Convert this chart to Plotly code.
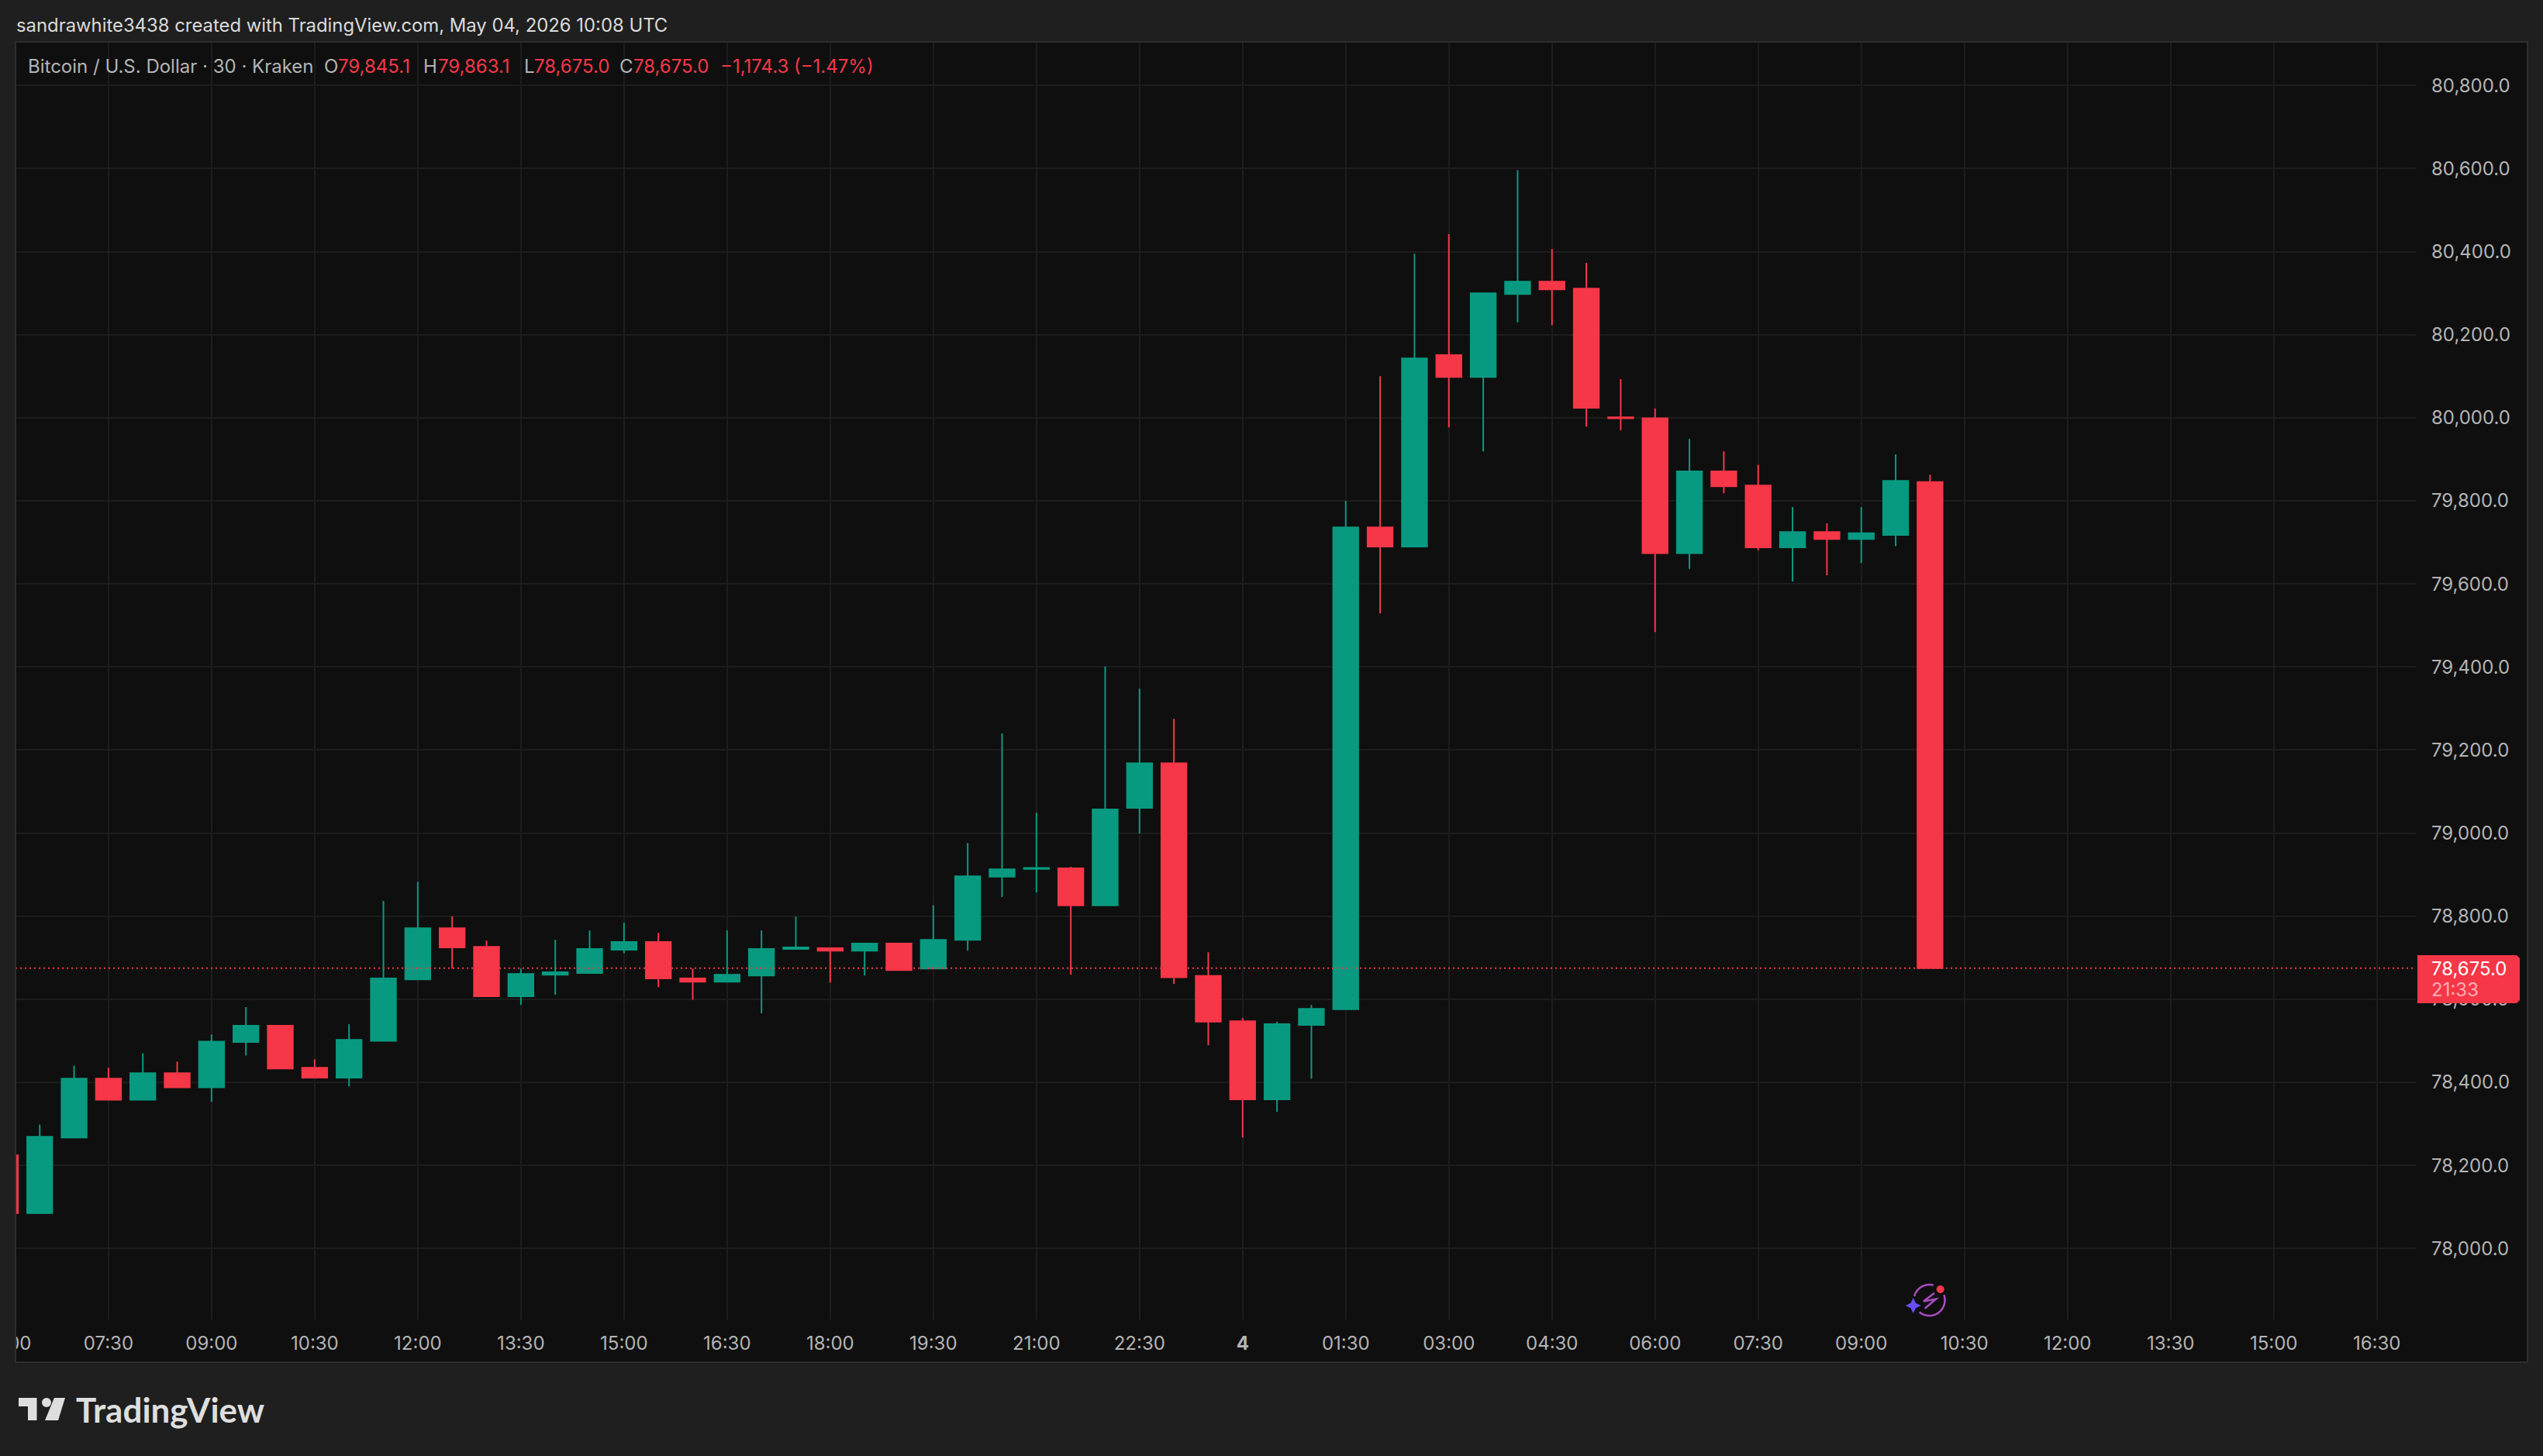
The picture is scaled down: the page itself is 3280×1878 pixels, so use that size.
import math
from datetime import datetime, timedelta
import plotly.graph_objects as go

W, H = 3280, 1878

# 30 minute bars, Bitcoin / U.S. Dollar, Kraken
start_time = datetime(2026, 5, 3, 6, 0)

opens = [78224, 78085, 78267, 78409, 78358, 78422, 78388, 78497, 78536, 78435,
         78411, 78500, 78648, 78771, 78726, 78607, 78659, 78663, 78719, 78738,
         78650, 78642, 78657, 78721, 78723, 78717, 78734, 78674, 78743, 78895,
         78914, 78915, 78826, 79061, 79168, 78656, 78547, 78359, 78538, 78576,
         79736, 79690, 80151, 80098, 80298, 80328, 80311, 80001, 79999, 79674,
         79871, 79837, 79688, 79725, 79708, 79718, 79845.1]
highs = [78224, 78298, 78440, 78435, 78470, 78450, 78515, 78581, 78536, 78455,
         78540, 78837, 78883, 78800, 78741, 78674, 78743, 78766, 78784, 78760,
         78674, 78766, 78766, 78799, 78723, 78734, 78734, 78826, 78976, 79240,
         79049, 78919, 79401, 79348, 79275, 78713, 78555, 78546, 78586, 79800,
         80100, 80395, 80442, 80300, 80596, 80406, 80373, 80093, 80022, 79949,
         79919, 79887, 79785, 79746, 79785, 79912, 79863.1]
lows = [78085, 78085, 78267, 78358, 78358, 78388, 78353, 78465, 78433, 78411,
        78390, 78500, 78648, 78674, 78607, 78586, 78611, 78663, 78711, 78629,
        78599, 78642, 78566, 78721, 78640, 78657, 78670, 78674, 78717, 78846,
        78857, 78659, 78826, 78999, 78637, 78489, 78267, 78329, 78409, 78576,
        79529, 79690, 79977, 79919, 80230, 80223, 79979, 79970, 79484, 79636,
        79818, 79681, 79606, 79621, 79650, 79691, 78675.0]
closes = [78085, 78269, 78409, 78358, 78422, 78388, 78498, 78536, 78433, 78411,
          78502, 78650, 78771, 78725, 78607, 78661, 78665, 78721, 78738, 78650,
          78642, 78659, 78721, 78725, 78717, 78734, 78670, 78743, 78896, 78913,
          78916, 78826, 79057, 79168, 78653, 78546, 78359, 78540, 78577, 79736,
          79690, 80143, 80098, 80300, 80328, 80309, 80024, 79999, 79674, 79871,
          79835, 79688, 79725, 79708, 79722, 79848, 78675.0]

price_ticks = [78000, 78200, 78400, 78600, 78800, 79000, 79200, 79400,
               79600, 79800, 80000, 80200, 80400, 80600, 80800]
time_labels = ["06:00", "07:30", "09:00", "10:30", "12:00", "13:30", "15:00", "16:30",
               "18:00", "19:30", "21:00", "22:30", "<b>4</b>", "01:30", "03:00", "04:30",
               "06:00", "07:30", "09:00", "10:30", "12:00", "13:30", "15:00", "16:30"]

BG_OUT = "#1F1F1F"
BG_PANE = "#0F0F0F"
GRID = "#1D1D1D"
BORDER = "#2E2E2E"
UP = "#089A80"
DOWN = "#F53748"
TEXT = "#B4B4B4"
FONT = "Inter"

times = [start_time + timedelta(minutes=30 * i) for i in range(len(opens))]
time_ticks = [start_time + timedelta(minutes=90 * i) for i in range(len(time_labels))]


# pixel helpers for the page furniture
def fx(x):
    return x / W


def fy(y):
    return 1 - y / H


def path(points, close=True):
    s = "M" + " L".join(f"{fx(x):.6f},{fy(y):.6f}" for x, y in points)
    return s + (" Z" if close else "")


def bar_time(i):
    return start_time + timedelta(minutes=30 * i)


fig = go.Figure()

fig.add_trace(go.Candlestick(
    x=times, open=opens, high=highs, low=lows, close=closes,
    increasing=dict(line=dict(color=UP, width=2), fillcolor=UP),
    decreasing=dict(line=dict(color=DOWN, width=2), fillcolor=DOWN),
    whiskerwidth=0,
    showlegend=False,
))

shapes = [
    # pane
    dict(type="rect", xref="paper", yref="paper", layer="below",
         x0=fx(20), x1=fx(3260), y0=fy(1757), y1=fy(54),
         fillcolor=BG_PANE, line=dict(width=0)),
    # last price line
    dict(type="line", xref="paper", yref="y", x0=fx(20), x1=fx(3114),
         y0=closes[-1], y1=closes[-1],
         line=dict(color=DOWN, width=2, dash="2px,4px")),
    # strip left of the pane hides the clipped bar and label
    dict(type="rect", xref="paper", yref="paper", x0=0, x1=fx(19), y0=0, y1=1,
         fillcolor=BG_OUT, line=dict(width=0)),
    dict(type="rect", xref="paper", yref="paper",
         x0=fx(20), x1=fx(3260), y0=fy(1757), y1=fy(54),
         fillcolor="rgba(0,0,0,0)", line=dict(color=BORDER, width=2)),
    # price tag
    dict(type="path", xref="paper", yref="paper",
         path=path([(3118, 1232), (3246, 1232), (3250, 1236), (3250, 1290), (3246, 1294), (3118, 1294)]),
         fillcolor=DOWN, line=dict(width=0)),
    # tradingview logo
    dict(type="path", xref="paper", yref="paper",
         path=path([(24, 1803), (47.5, 1803), (47.5, 1832), (36, 1832), (36, 1814), (24, 1814)]),
         fillcolor="#DEDEDE", line=dict(width=0)),
    dict(type="circle", xref="paper", yref="paper", x0=fx(54), x1=fx(66), y0=fy(1815), y1=fy(1803),
         fillcolor="#DEDEDE", line=dict(width=0)),
    dict(type="path", xref="paper", yref="paper",
         path=path([(70, 1803), (84, 1803), (75, 1832), (58, 1832)]),
         fillcolor="#DEDEDE", line=dict(width=0)),
]

# badge near the last bar
cx, cy, r = 2488.5, 1677, 20
ring1 = [(cx + r * math.cos(math.radians(a)), cy + r * math.sin(math.radians(a))) for a in range(-20, 135, 5)]
ring2 = [(cx + r * math.cos(math.radians(a)), cy + r * math.sin(math.radians(a))) for a in range(195, 290, 5)]
for ring in (ring1, ring2):
    shapes.append(dict(type="path", xref="paper", yref="paper", path=path(ring, close=False),
                       line=dict(color="#A94CC0", width=2.5)))
shapes.append(dict(type="path", xref="paper", yref="paper",
                   path=path([(2495, 1667.7), (2481, 1678.5), (2497, 1675.5), (2482.7, 1687.7)], close=False),
                   line=dict(color="#A94CC0", width=2.5)))
shapes.append(dict(type="path", xref="paper", yref="paper",
                   path=path([(2467.7, 1674), (2470.9, 1680.8), (2477.7, 1684), (2470.9, 1687.2), (2467.7, 1694),
                              (2464.5, 1687.2), (2457.7, 1684), (2464.5, 1680.8)]),
                   fillcolor="#6B4DFF", line=dict(width=0)))
shapes.append(dict(type="circle", xref="paper", yref="paper", x0=fx(2497.7), x1=fx(2507.7),
                   y0=fy(1668), y1=fy(1658), fillcolor=DOWN, line=dict(width=0)))


def note(text, x, y, size=24, color=TEXT, anchor="left", **font):
    return dict(text=text, xref="paper", yref="paper", x=fx(x), y=fy(y), xanchor=anchor, yanchor="middle",
                showarrow=False, borderpad=0, font=dict(family=FONT, size=size, color=color, **font))


annotations = [
    note("sandrawhite3438 created with TradingView.com, May 04, 2026 10:08 UTC", 20, 32, size=23.85, color="#DADADA"),
    note("Bitcoin / U.S. Dollar · 30 · Kraken", 35, 86),
    note("O", 417, 86), note(f"{opens[-1]:,.1f}", 435, 86, color=DOWN),
    note("H", 545, 86), note(f"{highs[-1]:,.1f}", 563.5, 86, color=DOWN),
    note("L", 675, 86), note(f"{lows[-1]:,.1f}", 687.5, 86, color=DOWN),
    note("C", 798, 86), note(f"{closes[-1]:,.1f}", 816, 86, color=DOWN),
    note("−1,174.3 (−1.47%)", 928, 86, color=DOWN),
    note(f"{closes[-1]:,.1f}", 3135, 1249, color="#FFFFFF"),
    note("21:33", 3135, 1276, color="rgba(255,255,255,0.6)"),
    note("TradingView", 97, 1818, size=44, color="#DEDEDE", weight=700),
]
annotations[-1]["font"]["family"] = "Lato"

# bar positions: 44.33 px per bar, first bar centred at 6.9 px
i_left = (0 - 6.9) / 44.33
i_right = (3116 - 6.9) / 44.33
# price to pixel: 78,800 at 1181.7 px, 0.5357 px per dollar
y_bottom = 78800 - (1702 - 1181.7) / 0.5357
y_top = 78800 + (1181.7 - 54) / 0.5357

fig.update_layout(
    width=W, height=H,
    margin=dict(l=0, r=0, t=0, b=0),
    paper_bgcolor=BG_OUT,
    plot_bgcolor=BG_PANE,
    font=dict(family=FONT, size=24, color=TEXT),
    boxgap=0.27,
    boxgroupgap=0,
    showlegend=False,
    shapes=shapes,
    annotations=annotations,
    xaxis=dict(
        domain=[0, 3116 / W],
        automargin=False,
        range=[bar_time(i_left), bar_time(i_right)],
        rangeslider=dict(visible=False),
        tickmode="array", tickvals=time_ticks, ticktext=time_labels,
        tickangle=0, ticks="", showline=False, zeroline=False,
        ticklabeloverflow="allow", ticklabelstandoff=14,
        showgrid=True, gridcolor=GRID, gridwidth=2,
        tickfont=dict(family=FONT, size=24, color=TEXT),
    ),
    yaxis=dict(
        domain=[fy(1702), fy(54)],
        automargin=False,
        range=[y_bottom, y_top],
        side="right",
        tickmode="array", tickvals=price_ticks, ticktext=[f"{p:,.1f}" for p in price_ticks],
        ticks="", showline=False, zeroline=False,
        ticklabelstandoff=19,
        showgrid=True, gridcolor=GRID, gridwidth=2,
        tickfont=dict(family=FONT, size=24, color=TEXT),
    ),
)

# the default page has an 8px body margin
fig.write_html("out.html", config=dict(displayModeBar=False), post_script="document.body.style.margin='0';")
